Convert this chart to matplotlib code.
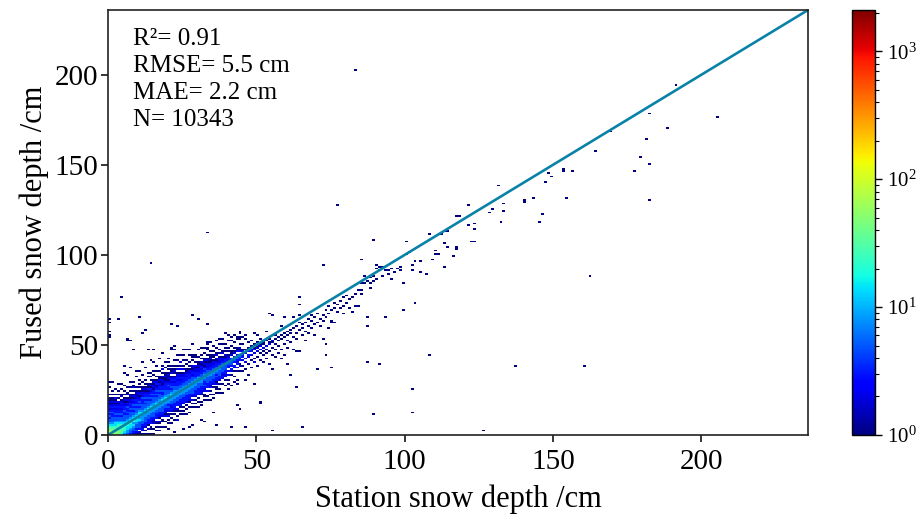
import numpy as np
import matplotlib
matplotlib.use("Agg")
import matplotlib.pyplot as plt
from matplotlib.colors import LogNorm

plt.rcParams['font.family'] = ['Liberation Serif', 'DejaVu Serif']
plt.rcParams['mathtext.fontset'] = 'stix'

# ---------------- data ----------------
# count classes used in the dense-core table (1 cm bins)
level_counts = {'.': 0, '1': 1, '2': 2, '3': 3, '5': 5, '8': 8,
                'a': 14, 'b': 24, 'c': 35, 'd': 50, 'e': 70, 'f': 100}

# dense core: one row per station depth 0..44 cm;
# characters = count class for (fused - station) offsets -15..+29 cm
offset_min = -15
core_by_station = [
    "..... ..... ..... fedcb a8553 53532 32121 1.1.. .1..1",  # 0
    "..... ..... ....e edcba 85553 35323 21211 .1.1. ...1.",  # 1
    "..... ..... ...dd dcbaa 85535 33232 1212. 1..1. .....",  # 2
    "..... ..... ..cdc cbba8 55353 32321 2.1.1 .1... 1....",  # 3
    "..... ..... .bccb cba85 53533 23232 1.21. .1..1 .....",  # 4
    "..... ..... 8abbb ba855 53353 32212 1.1.1 ..1.. .....",  # 5
    "..... ....5 88aab ba855 35335 23121 .21.. 1.... ..1..",  # 6
    "..... ...35 58aab aa855 53533 32212 1.1.1 ..1.. .....",  # 7
    "..... ..235 58a8b ba855 35353 23121 .1.21 .1... .....",  # 8
    "..... .1253 558aa ba855 53533 32212 1.1.. ...1. .1...",  # 9
    "..... 12.35 558a8 baa85 35353 21321 .1.1. 1.... .....",  # 10
    "....1 .2323 55888 aa855 53335 23212 1..1. ..1.. .....",  # 11
    "...1. 1.233 55588 aa855 35353 32121 .1.1. ..... 1....",  # 12
    "..1.. 2.133 35588 aa855 53533 21312 1...1 .1... .....",  # 13
    ".1..1 1.323 35588 aa855 35353 23121 .1.1. ..... ..1..",  # 14
    "1..1. .2123 55588 a8855 53533 12212 1..1. 1.... .....",  # 15
    ".1.1. 12.33 35588 aa855 35353 21321 .1..1 ..1.. .....",  # 16
    "1.1.1 2.123 35588 a8855 53533 23121 1..1. ..... 1....",  # 17
    ".1..1 1.233 55588 aa853 35332 12212 .1.1. 1.... ..1..",  # 18
    "1..1. .2132 35588 aa855 53333 21121 1..1. .1... .....",  # 19
    ".1.1. 21.23 53588 a8855 33532 12121 .1.1. ..1.. .....",  # 20
    "1..1. 1.232 35588 aa853 53323 21.21 1.1.. ..... .1...",  # 21
    ".1..1 .1233 35588 a8855 33232 1.121 .1..1 ..... 1....",  # 22
    "1.1.. 12.33 35588 a8553 33232 21.1. 1..1. .1... .....",  # 23
    "..1.1 .1323 35588 a8553 32322 1.2.1 .1... 1.... .....",  # 24
    ".1.1. 1.233 35588 a8553 33221 .2.1. .1..1 ..... .....",  # 25
    "1..1. 1.233 35588 88553 32321 1..1. 1.... .1... .....",  # 26
    "1..1. .1233 35588 a8553 33221 .1.1. ..1.. ..... .....",  # 27
    "..1.1 .2.23 55588 88553 23212 1..1. .1... ..1.. .....",  # 28
    ".1.1. 1.233 35588 a8533 32212 .1..1 1.... ..... .....",  # 29
    "1..1. 1.233 35558 88533 22121 1..1. ..1.. ..... .....",  # 30
    "1.1.. .1323 35588 85533 23211 .1.1. ..1.. ..... .....",  # 31
    "..1.1 1.223 53358 88533 21212 1..1. .1... ..... .....",  # 32
    ".1.1. .2.33 35558 85532 22121 .1..1 1.... ..... .....",  # 33
    "1..1. 1.223 35558 85332 21121 1.1.. ..1.. ..... .....",  # 34
    "1.1.. .1.23 35558 85332 21.11 .1..1 ..... ..... .....",  # 35
    "..1.1 1.213 35358 55332 12.21 ..1.. .1... ..... .....",  # 36
    ".1.1. .1.23 35558 55322 21.1. 1..1. ..... ..... .....",  # 37
    "1.... 1..23 23555 55322 1.21. ..1.. 1.... ..... .....",  # 38
    "...1. .1.22 33555 53321 2.1.1 .1... ..... ..... .....",  # 39
    "1..1. 1..2. 2.335 53321 .1.1. ..1.. 1.... ..... .....",  # 40
    ".1... ..1.2 3.355 33.21 1..1. .1... ..... ..... .....",  # 41
    "..1.. 1..1. 23.35 53.21 .1..1 ..... ..... ..... .....",  # 42
    "1.1.. ..1.2 .3235 32.21 1.... .1... ..... ..... .....",  # 43
    "..... .1..2 1.335 3.212 .1..1 ..1.. ..... ..... .....",  # 44
]

# band along the 1:1 line, station depth 45..100 cm: (station, fused, count)
band_cells = [
    (45, 35, 1), (45, 38, 1), (45, 41, 2), (45, 43, 3), (45, 44, 3), (45, 46, 2), (45, 47, 1), (45, 50, 1), (45, 54, 1),
    (46, 30, 1), (46, 36, 1), (46, 40, 2), (46, 42, 3), (46, 45, 3), (46, 47, 1), (46, 53, 1), (46, 55, 1),
    (47, 33, 1), (47, 39, 1), (47, 43, 2), (47, 44, 3), (47, 46, 2), (47, 48, 1), (47, 51, 1),
    (48, 37, 1), (48, 41, 1), (48, 44, 2), (48, 46, 3), (48, 47, 2), (48, 49, 1), (48, 52, 1),
    (49, 28, 1), (49, 40, 2), (49, 42, 1), (49, 45, 2), (49, 47, 3), (49, 48, 1), (49, 50, 1), (49, 56, 1),
    (50, 38, 1), (50, 43, 1), (50, 46, 2), (50, 48, 2), (50, 49, 1), (50, 51, 1), (50, 55, 1),
    (51, 17, 1), (51, 41, 1), (51, 45, 1), (51, 47, 2), (51, 49, 2), (51, 50, 1), (51, 53, 1),
    (52, 40, 1), (52, 44, 1), (52, 46, 1), (52, 48, 2), (52, 50, 1), (52, 51, 1),
    (53, 42, 1), (53, 45, 1), (53, 47, 1), (53, 49, 2), (53, 52, 1), (53, 57, 1),
    (54, 39, 1), (54, 46, 1), (54, 50, 2), (54, 51, 1), (54, 53, 1), (54, 67, 1),
    (55, 2, 1), (55, 36, 1), (55, 44, 1), (55, 48, 1), (55, 51, 1), (55, 52, 2), (55, 66, 1),
    (56, 43, 1), (56, 47, 1), (56, 50, 1), (56, 53, 1), (56, 55, 1),
    (57, 45, 1), (57, 49, 1), (57, 52, 1), (57, 54, 1), (57, 57, 1),
    (58, 42, 1), (58, 47, 1), (58, 53, 1), (58, 55, 1), (58, 60, 1),
    (59, 44, 1), (59, 50, 1), (59, 54, 1), (59, 56, 1), (59, 65, 1),
    (60, 39, 1), (60, 48, 1), (60, 52, 1), (60, 55, 1), (60, 57, 1),
    (61, 33, 1), (61, 51, 1), (61, 56, 1), (61, 58, 1),
    (62, 47, 1), (62, 54, 1), (62, 59, 1), (62, 65, 1),
    (63, 26, 1), (63, 46, 1), (63, 53, 1), (63, 56, 1), (63, 60, 1),
    (64, 46, 1), (64, 58, 1), (64, 62, 1), (64, 66, 1), (64, 72, 1), (64, 76, 1),
    (65, 4, 1), (65, 55, 1), (65, 59, 1), (65, 61, 1),
    (66, 52, 1), (66, 57, 1), (66, 62, 1),
    (67, 56, 1), (67, 60, 1), (67, 64, 1),
    (68, 59, 1), (68, 63, 1), (68, 66, 1),
    (69, 55, 1), (69, 61, 1), (69, 65, 1),
    (70, 36, 1), (70, 62, 1), (70, 67, 1),
    (71, 60, 1), (71, 64, 1),
    (72, 53, 1), (72, 63, 1), (72, 66, 1), (72, 94, 1),
    (73, 44, 1), (73, 50, 1), (73, 65, 1), (73, 69, 1),
    (74, 59, 1), (74, 67, 1), (74, 71, 1),
    (75, 37, 1), (75, 62, 1), (75, 63, 1), (75, 69, 1),
    (76, 62, 1), (76, 70, 1), (76, 73, 1),
    (77, 68, 1), (77, 72, 1), (77, 127, 1),
    (78, 70, 1), (78, 74, 1),
    (79, 67, 1), (79, 71, 1), (79, 76, 1),
    (80, 73, 1), (80, 77, 1),
    (81, 70, 1), (81, 75, 1),
    (82, 68, 1), (82, 76, 1),
    (83, 71, 1), (83, 78, 1), (83, 202, 1),
    (84, 71, 1), (84, 80, 1),
    (85, 78, 1), (85, 80, 1), (85, 84, 1), (85, 97, 1),
    (86, 84, 1), (86, 88, 1),
    (87, 40, 1), (87, 60, 1), (87, 65, 1), (87, 85, 1),
    (88, 81, 1), (88, 84, 1), (88, 87, 1),
    (89, 11, 1), (89, 85, 1), (89, 88, 1), (89, 108, 1),
    (90, 86, 1), (90, 92, 1), (90, 94, 1),
    (91, 39, 1), (91, 91, 1), (91, 93, 1),
    (92, 88, 1), (92, 93, 1),
    (93, 65, 1), (93, 91, 1),
    (94, 89, 1), (94, 91, 1),
    (95, 86, 1), (95, 92, 1),
    (96, 90, 1), (97, 92, 1),
    (98, 91, 1), (98, 93, 1),
    (99, 69, 1), (99, 84, 1),
    (100, 100, 1), (100, 107, 1),
]

# scattered shallow-snow cells away from the core: (station, fused, count)
shallow_outliers = [
    (5, 34, 1), (5, 38, 1), (7, 37, 1), (10, 35, 1), (11, 40, 1), (14, 34, 1),
    (15, 40, 1), (18, 36, 1), (20, 40, 1), (23, 36, 1), (24, 40, 1), (28, 38, 1),
    (28, 43, 1), (31, 40, 1), (32, 36, 1), (6, 53, 1),
    (20, 3, 1), (22, 1, 1), (23, 8, 1), (25, 3, 1), (27, 4, 1), (28, 5, 1),
    (31, 8, 1), (32, 7, 1), (35, 12, 1), (36, 5, 1), (41, 4, 1), (43, 16, 1),
    (44, 14, 1), (46, 4, 1), (51, 18, 1),
]

# isolated cells (overestimates at shallow depth, deep snow, large errors)
sparse_cells = [
    (0, 54, 1), (0, 55, 1), (0, 57, 1), (0, 62, 1), (0, 64, 1), (3, 64, 1),
    (4, 76, 1), (6, 52, 1), (7, 52, 1), (8, 47, 1), (10, 65, 1), (11, 56, 1),
    (12, 58, 1), (13, 47, 1), (14, 95, 1), (15, 47, 1), (21, 48, 1), (21, 61, 1),
    (22, 49, 1), (23, 60, 1), (25, 47, 1), (27, 47, 1), (28, 66, 1), (30, 64, 1),
    (33, 50, 1), (33, 51, 1), (33, 61, 1), (33, 112, 1), (37, 53, 1), (39, 56, 1),
    (41, 54, 1), (42, 55, 1), (43, 53, 1), (44, 54, 1), (44, 57, 1),
    (101, 101, 1), (102, 12, 1), (102, 25, 1), (102, 91, 1), (102, 94, 1),
    (103, 73, 1), (103, 96, 1), (105, 90, 1), (105, 96, 1), (107, 89, 1),
    (108, 44, 1), (108, 111, 1), (109, 97, 1), (110, 100, 1), (110, 102, 1),
    (111, 100, 1), (112, 111, 1), (113, 93, 1), (113, 106, 1), (113, 113, 1),
    (114, 104, 1), (114, 113, 1), (116, 99, 1), (117, 103, 1), (117, 104, 1),
    (117, 121, 1), (118, 121, 1), (121, 116, 1), (121, 127, 1), (122, 107, 1),
    (123, 107, 1), (123, 114, 1), (123, 117, 1), (126, 2, 1), (128, 123, 1),
    (129, 125, 1), (131, 138, 1), (132, 118, 1), (133, 124, 1), (133, 128, 1),
    (137, 38, 1), (140, 129, 1), (140, 130, 1), (143, 131, 1), (145, 118, 1),
    (146, 122, 1), (147, 140, 1), (148, 145, 1), (149, 143, 1), (153, 146, 1),
    (153, 147, 1), (154, 131, 1), (156, 146, 1), (160, 38, 1), (162, 88, 1),
    (164, 157, 1), (169, 168, 1), (177, 146, 1), (179, 154, 1), (181, 164, 1),
    (182, 130, 1), (182, 150, 1), (182, 178, 1), (188, 170, 1), (191, 194, 1),
    (205, 176, 1),
]

axis_max = 236
tick_values = [0, 50, 100, 150, 200]
one_to_one = [0, 236]
stats_lines = ["R\u00b2= 0.91", "RMSE= 5.5 cm", "MAE= 2.2 cm", "N= 10343"]
x_label = "Station snow depth /cm"
y_label = "Fused snow depth /cm"
count_range = (1, 2100)

# ---------------- assemble cells ----------------
xs, ys, ws = [], [], []
for station, row in enumerate(core_by_station):
    row = row.replace(" ", "")
    for k, ch in enumerate(row):
        c = level_counts[ch]
        fused = station + offset_min + k
        if c > 0 and fused >= 0:
            xs.append(station + 0.5)
            ys.append(fused + 0.5)
            ws.append(c)
for (sx, fy, n) in band_cells + shallow_outliers + sparse_cells:
    xs.append(sx + 0.5)
    ys.append(fy + 0.5)
    ws.append(n)

edges = np.arange(0, axis_max + 1, 1)

# ---------------- plot ----------------
fig = plt.figure(figsize=(9.16, 5.16), dpi=100)
ax = fig.add_axes([108 / 916, 81 / 516, 700 / 916, 425 / 516])

h = ax.hist2d(xs, ys, bins=[edges, edges], weights=ws, cmap='jet',
              norm=LogNorm(vmin=count_range[0], vmax=count_range[1]), cmin=1)

ax.plot(one_to_one, one_to_one, color='#0a82a8', lw=1.9)

ax.set_xlim(0, axis_max)
ax.set_ylim(0, axis_max)
ax.set_xticks(tick_values)
ax.set_yticks(tick_values)
ax.tick_params(axis='both', direction='out', length=5, width=1.1,
               labelsize=21, top=False, right=False)
ax.tick_params(axis='x', pad=5)
ax.tick_params(axis='y', pad=2)
for s in ax.spines.values():
    s.set_linewidth(1.2)
    s.set_color('#222222')

ax.set_xlabel(x_label, fontsize=22, labelpad=7)
ax.set_ylabel(y_label, fontsize=22, labelpad=4)

ax.text(0.036, 0.958, "\n".join(stats_lines), transform=ax.transAxes,
        ha='left', va='top', fontsize=18, linespacing=1.3)

cax = fig.add_axes([852 / 916, 81 / 516, 23 / 916, 425 / 516])
cb = fig.colorbar(h[3], cax=cax)
cb.ax.tick_params(which='major', labelsize=15, length=5, width=1)
cb.ax.tick_params(which='minor', length=3, width=0.8)
cb.outline.set_linewidth(1.0)

fig.savefig("out.png", dpi=100)
